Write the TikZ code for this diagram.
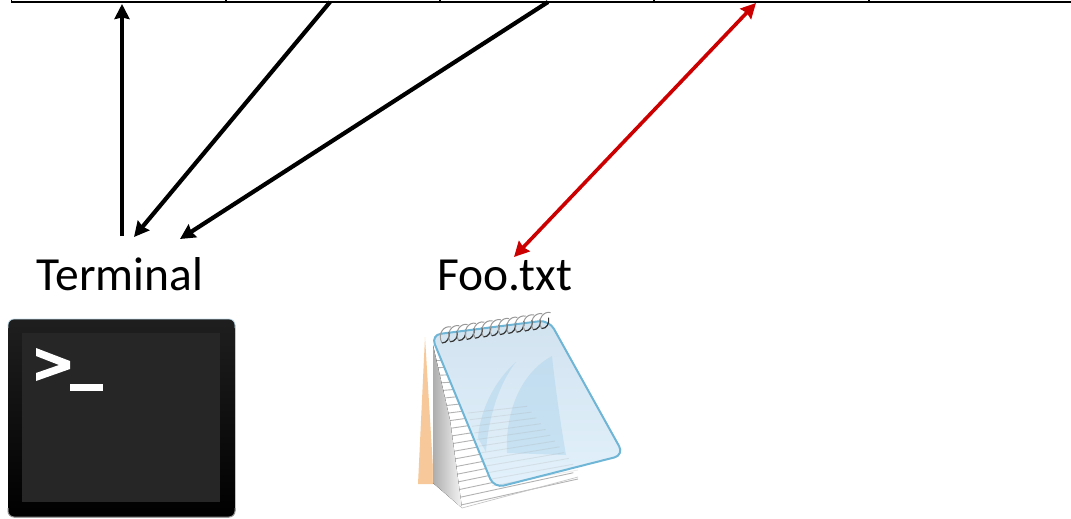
\documentclass[tikz,border=0pt]{standalone}
\usepackage{fontspec}
\setmainfont{Carlito}
\usepackage{xcolor}
\usetikzlibrary{arrows.meta,positioning,calc}
\definecolor{sheetblue}{HTML}{6FB5D6}
\definecolor{sheetpale}{HTML}{D2E3F0}
\definecolor{sheetmid}{HTML}{B6DAF0}
\definecolor{sheetlow}{HTML}{E2F1FB}
\definecolor{sailblue}{HTML}{A5D0EA}
\definecolor{coverorange}{HTML}{F6C89A}
\definecolor{termgray}{HTML}{262626}
\tikzset{
  cellbox/.style={draw=black,line width=1.8pt,minimum width=214.5pt,minimum height=30pt,
                  inner sep=0pt,anchor=south},
  lbl/.style={font=\fontsize{47.5}{50}\selectfont,inner sep=0pt,anchor=base},
  arr/.style={-{Stealth[length=15pt,width=15pt,inset=1.5pt]},line width=4.2pt,black},
  redarr/.style={{Stealth[length=15pt,width=15pt,inset=1.5pt]}-{Stealth[length=15pt,width=15pt,inset=1.5pt]},
                 line width=3.6pt,red!80!black},
}
\begin{document}
\begin{tikzpicture}[x=1pt,y=-1pt]
\useasboundingbox (0,0) rectangle (1071,519);
% top row of cells
\foreach \n/\x in {1/118.75, 2/333, 3/547, 4/761.5, 5/976}{
  \node[cellbox] (cell\n) at (\x,2.6) {};
}
\coordinate (up) at (122,4);
\coordinate (from2) at (330,2);
\coordinate (from3) at (548,2);
\coordinate (redtop) at (756,3);
% labels
\node[lbl] (termlabel) at (120,290) {Terminal};
\node[lbl] (foolabel) at (505,290) {Foo.txt};
\coordinate (termout) at (122,236);
\coordinate (termin2) at (134,237);
\coordinate (termin3) at (180,239);
\coordinate (redfoo) at (514,257);
% arrows
\draw[arr,line width=3.6pt] (termout) -- (up);
\draw[arr] (from2) -- (termin2);
\draw[arr] (from3) -- (termin3);
\draw[redarr] (redfoo) -- (redtop);
% terminal icon
\fill[top color=black!88,bottom color=black,rounded corners=6pt] (8,319) rectangle (235,517);
\draw[sheetblue!40,line width=0.7pt,rounded corners=6pt] (8,328) -- (8,319) -- (235,319) -- (235,328);
\draw[black!45,line width=1pt,rounded corners=6pt] (8,508) -- (8,517) -- (235,517) -- (235,508);
\fill[termgray] (22,333) rectangle (220,502);
\fill[white] (36,348) -- (70,361) -- (70,369) -- (36,381) -- (36,373) -- (59,365) -- (36,356) -- cycle;
\fill[white] (70,384) rectangle (103,391);
% notepad: back cover and paper
\fill[coverorange] (425,337) -- (418,484) -- (434,484) -- cycle;
\fill[white] (432,340) -- (578,477) -- (462,508) -- (433,483) -- cycle;
\foreach \t in {0,...,19}{
  \draw[black!30,line width=0.9pt]
    ($(436,360)!\t/19!(461,505)$) -- ($(490,360)!\t/19!(578,479)$);
}
\draw[black!22,line width=0.7pt] (578,477) -- (462,508);
\fill[left color=black!32,right color=black!4] (433,345) -- (433,483) -- (462,508) -- (450,420) -- cycle;
% notepad: clear sheet
\fill[top color=sheetpale,middle color=sheetmid,bottom color=sheetlow,rounded corners=10pt]
  (431,335) -- (549,320) -- (624,455) -- (494,488) -- cycle;
\fill[sailblue,opacity=0.4] (552,356) .. controls (522,372) and (505,410) .. (507,453)
  -- (566,455) .. controls (560,420) and (555,385) .. (552,356) -- cycle;
\fill[sailblue,opacity=0.4] (516,362) .. controls (495,380) and (480,410) .. (478,438)
  -- (486,452) .. controls (488,420) and (498,385) .. (516,362) -- cycle;
\foreach \t in {8,...,19}{
  \draw[black!35,opacity=0.22,line width=0.9pt]
    ($(450,360)!\t/19!(492,486)$) -- ($(490,360)!\t/19!(578,470)$);
}
\draw[sheetblue,line width=2pt,rounded corners=10pt]
  (431,335) -- (549,320) -- (624,455) -- (494,488) -- cycle;
% notepad: spiral
\foreach \i in {0,...,12}{
  \draw[black!40,line width=1pt] ({442+\i*8.3},{343-\i*1.2}) .. controls ({437+\i*8.3},{334-\i*1.2}) and ({444+\i*8.3},{325-\i*1.2}) .. ({451+\i*8.3},{327-\i*1.2});
  \draw[black!80,line width=1.2pt] ({442+\i*8.3},{343-\i*1.2}) .. controls ({447+\i*8.3},{343-\i*1.2}) and ({450+\i*8.3},{338-\i*1.2}) .. ({449+\i*8.3},{332-\i*1.2});
}
\end{tikzpicture}
\end{document}
